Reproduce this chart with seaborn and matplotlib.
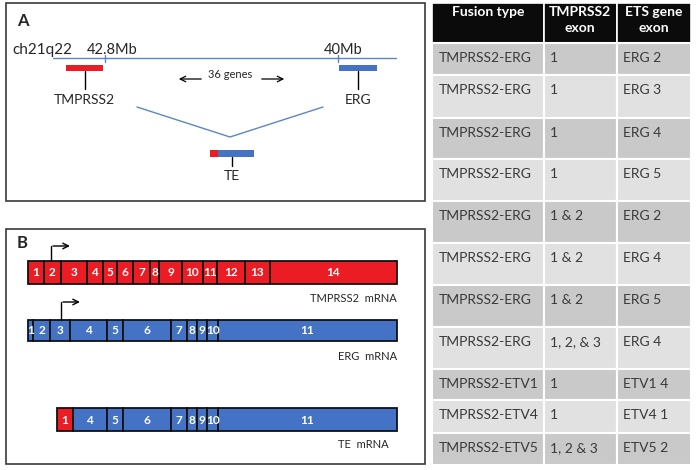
import numpy as np
import matplotlib
matplotlib.use("Agg")
import matplotlib.pyplot as plt
from matplotlib.patches import Rectangle
import seaborn as sns

# ---- data ----
# exon lengths (relative)
tmprss2_exons = [str(i) for i in range(1, 15)]
tmprss2_len = [16, 16.7, 26, 16, 14.6, 16, 16.7, 9.3, 22.4, 21, 14.6, 27.7, 25, 126.7]
erg_exons = [str(i) for i in range(1, 12)]
erg_len = [5.3, 16.7, 20, 36.7, 16.6, 47.4, 16, 10.6, 10, 11, 178.4]
te_exons = ["1", "4", "5", "6", "7", "8", "9", "10", "11"]
te_len = [15.4, 34, 16.6, 47.4, 16, 10.6, 10, 11, 178.4]
te_source = ["TMPRSS2"] + ["ERG"] * 8

# fusion table
table_header = ["Fusion type", "TMPRSS2\nexon", "ETS gene\nexon"]
fusion_type = ["TMPRSS2-ERG"] * 8 + ["TMPRSS2-ETV1", "TMPRSS2-ETV4", "TMPRSS2-ETV5"]
tmprss2_exon = ["1", "1", "1", "1", "1 & 2", "1 & 2", "1 & 2", "1, 2, & 3", "1", "1", "1, 2 & 3"]
ets_exon = ["ERG 2", "ERG 3", "ERG 4", "ERG 5", "ERG 2", "ERG 4", "ERG 5", "ERG 4",
            "ETV1 4", "ETV4 1", "ETV5 2"]

RED = "#ec1c24"
BLUE = "#4472c4"
LINE_BLUE = "#5b86c6"

sns.set_style("white")
plt.rcParams['font.family'] = ['Lato', 'DejaVu Sans']

fig = plt.figure(figsize=(7, 4.7), dpi=100)
ax = fig.add_axes([0, 0, 1, 1])
ax.set_xlim(0, 700)
ax.set_ylim(470, 0)
ax.axis('off')

# ---- panel frames ----
for y0, y1 in [(3, 200.5), (229, 464)]:
    ax.add_patch(Rectangle((6, y0), 419, y1 - y0, fill=False, ec="#3a3a3a", lw=1.2))
ax.text(17, 21, "A", fontsize=12, fontweight='bold', va='center')
ax.text(17, 243, "B", fontsize=12, fontweight='bold', va='center')

# ---- panel A: chromosome ----
ax.plot([53, 396], [58, 58], color=LINE_BLUE, lw=1)
for tx in [105, 338]:
    ax.plot([tx, tx], [55, 62], color=LINE_BLUE, lw=1)
ax.text(12, 50, "ch21q22", fontsize=11, va='center', ha='left')
ax.text(87, 50, "42.8Mb", fontsize=10.5, va='center', ha='left')
ax.text(324, 50, "40Mb", fontsize=10.5, va='center', ha='left')

genes = ["TMPRSS2", "ERG"]
gene_start = [66, 339]
gene_len = [37, 38]
gene_col = [RED, BLUE]
ax.barh([65, 65], gene_len, left=gene_start, height=6, align='edge', color=gene_col,
        linewidth=0)
for g, s, w in zip(genes, gene_start, gene_len):
    cx = s + w / 2
    ax.plot([cx, cx], [71, 89], color='black', lw=1)
    ax.text(cx, 100, g, fontsize=10, ha='center', va='center')

ax.text(230, 75, "36 genes", fontsize=8, ha='center', va='center')
ax.annotate("", xy=(176, 79), xytext=(204, 79),
            arrowprops=dict(arrowstyle='->', lw=0.9, color='black'))
ax.annotate("", xy=(287, 79), xytext=(259, 79),
            arrowprops=dict(arrowstyle='->', lw=0.9, color='black'))

ax.plot([137, 230, 323], [107, 137, 107], color=LINE_BLUE, lw=1)
ax.barh([150, 150], [8.3, 35.7], left=[210, 218.3], height=7, align='edge',
        color=[RED, BLUE], linewidth=0)
ax.plot([232, 232], [157, 166], color='black', lw=1)
ax.text(232, 176, "TE", fontsize=10, ha='center', va='center')


# ---- panel B: transcripts ----
def draw_transcript(lengths, labels, colors, x0, y, h):
    lefts = x0 + np.concatenate([[0], np.cumsum(lengths)[:-1]])
    ax.barh([y] * len(lengths), lengths, left=lefts, height=h, align='edge',
            color=colors, edgecolor='#111111', linewidth=1.3)
    for lab, l, w in zip(labels, lefts, lengths):
        ax.text(l + w / 2, y + h / 2 + 0.5, lab, color='white', fontsize=8.5,
                fontweight='bold', ha='center', va='center')


draw_transcript(tmprss2_len, tmprss2_exons, [RED] * len(tmprss2_len), 28, 261, 23)
draw_transcript(erg_len, erg_exons, [BLUE] * len(erg_len), 28, 320, 21)
draw_transcript(te_len, te_exons, [RED if s == "TMPRSS2" else BLUE for s in te_source],
                57.3, 408, 23)

# transcription start arrows
for x, ybar, ytop in [(50.7, 261, 246), (60.7, 320, 302)]:
    ax.plot([x, x], [ybar, ytop], color='black', lw=1)
    ax.annotate("", xy=(x + 22, ytop), xytext=(x - 0.5, ytop),
                arrowprops=dict(arrowstyle='->', lw=1, color='black'))

ax.text(397, 298, "TMPRSS2  mRNA", fontsize=8, ha='right', va='center')
ax.text(397, 356, "ERG  mRNA", fontsize=8, ha='right', va='center')
ax.text(389, 445, "TE  mRNA", fontsize=8, ha='right', va='center')

# ---- table ----
col_edges = [432, 543.5, 616.5, 691]
row_edges = [3, 43, 75, 118, 159, 201, 243, 285, 327, 369, 400, 433, 465]
n_rows = len(fusion_type)
col_w = np.diff(col_edges)

# header
ax.barh([row_edges[0]] * 3, col_w, left=col_edges[:-1], height=row_edges[1] - row_edges[0],
        align='edge', color='#0b0b0b', edgecolor='white', linewidth=1.2)
for j, htxt in enumerate(table_header):
    cx = (col_edges[j] + col_edges[j + 1]) / 2
    ax.text(cx, 6, htxt, color='white', fontsize=10, fontweight='bold',
            ha='center', va='top', linespacing=1.35)

for i in range(n_rows):
    top = row_edges[i + 1]
    h = row_edges[i + 2] - top
    shade = '#c9c9c9' if i % 2 == 0 else '#e1e1e1'
    ax.barh([top] * 3, col_w, left=col_edges[:-1], height=h, align='edge',
            color=shade, edgecolor='white', linewidth=1.5)
    for j, val in enumerate([fusion_type[i], tmprss2_exon[i], ets_exon[i]]):
        ax.text(col_edges[j] + 6.5, top + 15, val, fontsize=10, color='#3a3a3a',
                ha='left', va='center')

fig.savefig("out.png", dpi=100)
